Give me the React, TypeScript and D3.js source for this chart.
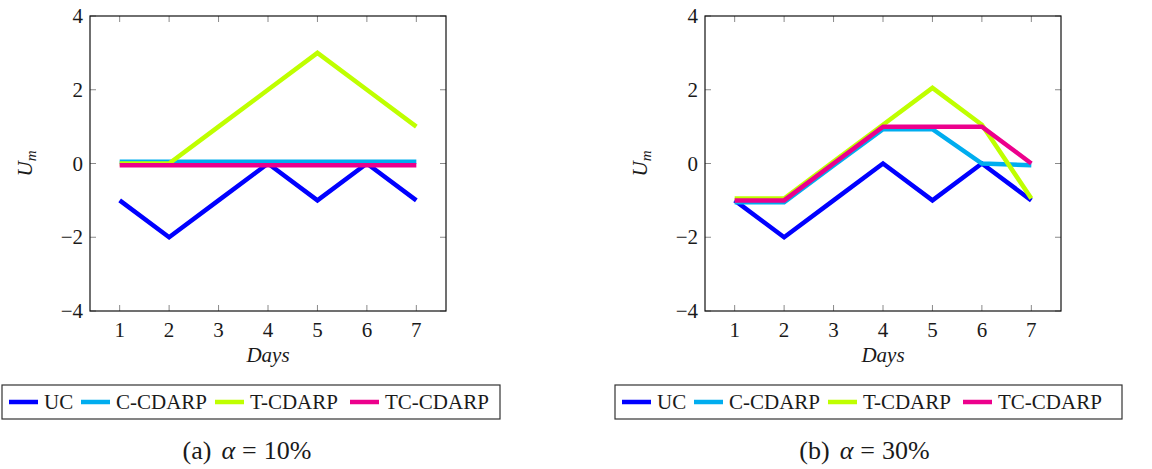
import React from "react";
import * as d3 from "d3";

const days = [1, 2, 3, 4, 5, 6, 7];
const yTicks = [-4, -2, 0, 2, 4];
const seriesNames = ["UC", "C-CDARP", "T-CDARP", "TC-CDARP"];
const seriesColors = ["#0000ff", "#00adef", "#bfff00", "#ec008c"];

// panel (a) alpha = 10%
const a_UC = [-1, -2, -1, 0, -1, 0, -1];
const a_C = [0.05, 0.05, 0.05, 0.05, 0.05, 0.05, 0.05];
const a_T = [0, 0, 1, 2, 3, 2, 1];
const a_TC = [-0.05, -0.05, -0.05, -0.05, -0.05, -0.05, -0.05];

// panel (b) alpha = 30%
const b_UC = [-1, -2, -1, 0, -1, 0, -1];
const b_C = [-1.05, -1.05, -0.05, 0.93, 0.93, 0, -0.05];
const b_T = [-0.95, -0.95, 0.05, 1.05, 2.05, 1.05, -0.95];
const b_TC = [-1, -1, 0, 1, 1, 1, 0];

const captions = ["(a)", "(b)"];
const alphas = ["10%", "30%"];

const FONT_STYLE = { fontFamily: "'Liberation Serif', 'DejaVu Serif', serif" };

type PanelProps = {
  left: number;
  series: number[][];
  legendLeft: number;
  legendWidth: number;
  caption: string;
  alpha: string;
};

function Panel({ left, series, legendLeft, legendWidth, caption, alpha }: PanelProps) {
  const width = 356;
  const top = 16;
  const bottom = 311;
  const x = d3.scaleLinear().domain([0.4, 7.6]).range([left, left + width]);
  const y = d3.scaleLinear().domain([-4, 4]).range([bottom, top]);
  const line = d3
    .line<number>()
    .x((_, i) => x(days[i]))
    .y((d) => y(d));
  const tickLen = 6;
  const tickColor = "#8a8a8a";
  const cx = left + width / 2;
  const legendY = 385;
  const legendH = 34;
  const entryOffsets = [7, 79, 213, 348];

  return (
    <g style={FONT_STYLE}>
      {days.map((d) => (
        <g key={"xt" + d}>
          <line x1={x(d)} x2={x(d)} y1={bottom} y2={bottom - tickLen} stroke={tickColor} strokeWidth={1} />
          <line x1={x(d)} x2={x(d)} y1={top} y2={top + tickLen} stroke={tickColor} strokeWidth={1} />
          <text x={x(d)} y={bottom + 26} textAnchor="middle" fontSize={21} fill="#1a1a1a">
            {d}
          </text>
        </g>
      ))}
      {yTicks.map((t) => (
        <g key={"yt" + t}>
          <line x1={left} x2={left + tickLen} y1={y(t)} y2={y(t)} stroke={tickColor} strokeWidth={1} />
          <line x1={left + width} x2={left + width - tickLen} y1={y(t)} y2={y(t)} stroke={tickColor} strokeWidth={1} />
          <text x={left - 7} y={y(t) + 7} textAnchor="end" fontSize={21} fill="#1a1a1a">
            {t < 0 ? "\u2212" + Math.abs(t) : String(t)}
          </text>
        </g>
      ))}
      {series.map((s, i) => (
        <path key={"s" + i} d={line(s) || ""} fill="none" stroke={seriesColors[i]} strokeWidth={4.5} />
      ))}
      <rect x={left} y={top} width={width} height={bottom - top} fill="none" stroke="#111" strokeWidth={1.2} />
      <text x={cx} y={bottom + 51} textAnchor="middle" fontSize={21} fontStyle="italic" fill="#1a1a1a">
        Days
      </text>
      <text
        transform={`translate(${left - 58},${y(0)}) rotate(-90)`}
        textAnchor="middle"
        fontSize={21}
        fontStyle="italic"
        fill="#1a1a1a"
      >
        U
        <tspan fontSize={15} dy={4}>m</tspan>
      </text>
      <rect x={legendLeft} y={legendY} width={legendWidth} height={legendH} fill="#fff" stroke="#333" strokeWidth={1.2} />
      {seriesNames.map((n, i) => (
        <g key={"lg" + i}>
          <line
            x1={legendLeft + entryOffsets[i]}
            x2={legendLeft + entryOffsets[i] + 29}
            y1={legendY + legendH / 2}
            y2={legendY + legendH / 2}
            stroke={seriesColors[i]}
            strokeWidth={4.5}
          />
          <text x={legendLeft + entryOffsets[i] + 35} y={legendY + legendH / 2 + 7} fontSize={21} fill="#1a1a1a">
            {n}
          </text>
        </g>
      ))}
      <text x={legendLeft + legendWidth / 2 - 4} y={459} textAnchor="middle" fontSize={26} fill="#1a1a1a">
        {caption}
        <tspan dx={10} fontStyle="italic">α</tspan>
        <tspan dx={7}>=</tspan>
        <tspan dx={7}>{alpha}</tspan>
      </text>
    </g>
  );
}

export default function App() {
  return (
    <svg
      width={1152}
      height={469}
      viewBox="0 0 1152 469"
      style={{ position: "absolute", left: 0, top: 0, background: "#fff" }}
    >
      <rect width={1152} height={469} fill="#fff" />
      <Panel
        left={90}
        series={[a_UC, a_C, a_T, a_TC]}
        legendLeft={2}
        legendWidth={498}
        caption={captions[0]}
        alpha={alphas[0]}
      />
      <Panel
        left={705}
        series={[b_UC, b_C, b_T, b_TC]}
        legendLeft={615}
        legendWidth={507}
        caption={captions[1]}
        alpha={alphas[1]}
      />
    </svg>
  );
}
